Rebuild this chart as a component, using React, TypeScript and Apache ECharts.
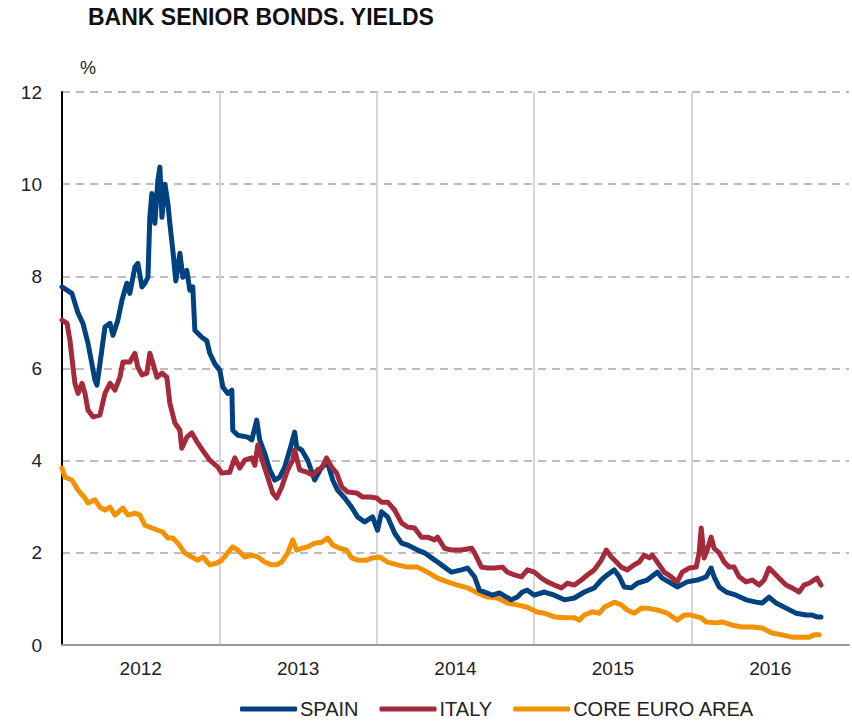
import React, { useEffect, useRef } from "react";
import * as echarts from "echarts";

// Decimal-year positions and yields (%)
const spainT = [0.000,0.063,0.102,0.133,0.165,0.190,0.209,0.222,0.241,0.273,0.305,0.324,0.355,0.381,0.412,0.431,0.463,0.482,0.508,0.527,0.546,0.558,0.571,0.590,0.609,0.622,0.635,0.654,0.673,0.685,0.704,0.723,0.749,0.768,0.793,0.812,0.831,0.844,0.888,0.920,0.939,0.971,1.003,1.022,1.053,1.079,1.085,1.117,1.180,1.206,1.237,1.256,1.288,1.320,1.352,1.383,1.415,1.447,1.478,1.491,1.523,1.561,1.605,1.650,1.688,1.720,1.751,1.796,1.840,1.878,1.923,1.973,2.005,2.030,2.069,2.113,2.157,2.195,2.259,2.303,2.348,2.386,2.430,2.475,2.538,2.576,2.621,2.652,2.697,2.735,2.779,2.824,2.855,2.893,2.925,2.957,3.001,3.065,3.128,3.192,3.255,3.319,3.382,3.426,3.464,3.509,3.541,3.572,3.617,3.655,3.718,3.782,3.813,3.871,3.909,3.972,4.036,4.093,4.124,4.143,4.175,4.220,4.283,4.346,4.410,4.448,4.492,4.537,4.600,4.664,4.727,4.765,4.797,4.822];
const spainV = [7.77,7.63,7.2,6.98,6.55,6.1,5.75,5.64,6.1,6.9,6.98,6.72,7.05,7.48,7.85,7.63,8.2,8.28,7.77,7.85,7.98,9.28,9.8,9.15,10.08,10.37,9.28,10.0,9.58,9.15,8.57,7.9,8.5,7.98,8.13,7.7,7.77,6.83,6.68,6.6,6.33,6.1,5.96,5.6,5.46,5.53,4.66,4.55,4.51,4.45,4.88,4.45,4.16,3.8,3.58,3.64,3.86,4.23,4.62,4.3,4.23,4.01,3.58,3.86,3.95,3.58,3.36,3.19,2.99,2.78,2.67,2.78,2.49,2.89,2.78,2.43,2.21,2.17,2.06,2.0,1.89,1.8,1.69,1.58,1.63,1.67,1.48,1.19,1.13,1.08,1.13,1.04,0.98,1.04,1.15,1.19,1.08,1.15,1.08,0.98,1.02,1.15,1.24,1.41,1.52,1.63,1.48,1.26,1.24,1.34,1.41,1.58,1.45,1.34,1.26,1.37,1.41,1.48,1.67,1.48,1.26,1.15,1.08,0.98,0.93,0.91,1.04,0.91,0.8,0.69,0.65,0.65,0.61,0.61];

const italyT = [0.000,0.032,0.051,0.070,0.082,0.102,0.127,0.146,0.165,0.197,0.241,0.273,0.305,0.336,0.368,0.387,0.431,0.463,0.482,0.508,0.539,0.558,0.577,0.603,0.635,0.666,0.685,0.717,0.749,0.761,0.793,0.825,0.863,0.907,0.939,0.990,1.015,1.066,1.098,1.129,1.161,1.206,1.225,1.244,1.275,1.307,1.339,1.364,1.396,1.434,1.466,1.478,1.510,1.555,1.593,1.624,1.650,1.681,1.713,1.745,1.777,1.815,1.872,1.910,1.954,1.999,2.030,2.069,2.113,2.157,2.195,2.240,2.284,2.322,2.367,2.386,2.430,2.475,2.538,2.602,2.621,2.665,2.703,2.747,2.798,2.830,2.874,2.919,2.957,3.001,3.046,3.084,3.128,3.173,3.211,3.255,3.299,3.338,3.382,3.426,3.458,3.490,3.522,3.553,3.591,3.636,3.668,3.699,3.731,3.750,3.782,3.826,3.871,3.909,3.940,3.985,4.029,4.048,4.061,4.080,4.099,4.124,4.143,4.175,4.207,4.239,4.270,4.302,4.346,4.385,4.429,4.461,4.492,4.524,4.556,4.600,4.638,4.683,4.714,4.746,4.778,4.797,4.822];
const italyV = [7.05,6.98,6.6,6.03,5.68,5.46,5.68,5.46,5.1,4.95,4.99,5.46,5.68,5.53,5.81,6.14,6.14,6.33,6.03,5.86,5.9,6.33,6.12,5.81,5.9,5.81,5.25,4.82,4.66,4.27,4.51,4.6,4.38,4.16,4.01,3.86,3.73,3.75,4.06,3.84,4.01,4.06,3.9,4.34,3.97,3.64,3.3,3.19,3.43,3.8,4.01,4.23,3.8,3.75,3.69,3.8,3.84,4.06,3.86,3.73,3.43,3.32,3.3,3.21,3.21,3.19,3.1,3.1,2.93,2.65,2.56,2.54,2.34,2.34,2.28,2.34,2.1,2.06,2.06,2.1,2.0,1.69,1.67,1.67,1.69,1.58,1.52,1.48,1.63,1.58,1.45,1.37,1.3,1.24,1.34,1.3,1.41,1.52,1.63,1.84,2.06,1.91,1.8,1.69,1.63,1.74,1.8,1.95,1.89,1.95,1.8,1.58,1.48,1.37,1.58,1.67,1.69,2.0,2.54,1.89,2.06,2.34,2.1,2.0,1.8,1.69,1.69,1.48,1.37,1.41,1.3,1.41,1.67,1.56,1.45,1.3,1.24,1.15,1.3,1.34,1.41,1.45,1.3];

const coreT = [0.000,0.019,0.063,0.102,0.146,0.165,0.209,0.241,0.273,0.305,0.336,0.387,0.419,0.463,0.495,0.527,0.571,0.609,0.641,0.673,0.704,0.736,0.780,0.825,0.863,0.895,0.939,0.983,1.015,1.053,1.085,1.117,1.161,1.206,1.244,1.288,1.332,1.364,1.396,1.434,1.466,1.491,1.523,1.561,1.605,1.650,1.688,1.720,1.764,1.808,1.840,1.878,1.935,1.973,2.018,2.069,2.132,2.195,2.259,2.322,2.386,2.449,2.513,2.576,2.640,2.703,2.766,2.830,2.893,2.957,3.014,3.065,3.128,3.192,3.255,3.287,3.319,3.369,3.414,3.445,3.509,3.553,3.591,3.636,3.680,3.718,3.782,3.845,3.909,3.953,3.997,4.061,4.093,4.156,4.194,4.258,4.321,4.385,4.448,4.511,4.575,4.638,4.702,4.746,4.778,4.810];
const coreV = [3.84,3.64,3.58,3.36,3.19,3.08,3.15,2.99,2.93,2.99,2.82,2.97,2.82,2.86,2.82,2.6,2.54,2.49,2.45,2.32,2.32,2.21,2.0,1.91,1.84,1.91,1.74,1.78,1.84,2.0,2.13,2.06,1.91,1.95,1.91,1.8,1.74,1.74,1.8,2.0,2.28,2.06,2.1,2.13,2.21,2.23,2.32,2.17,2.1,2.06,1.89,1.84,1.84,1.89,1.91,1.8,1.74,1.69,1.69,1.58,1.45,1.37,1.3,1.24,1.13,1.04,1.02,0.91,0.87,0.82,0.72,0.69,0.61,0.59,0.59,0.54,0.65,0.72,0.69,0.82,0.93,0.87,0.76,0.69,0.8,0.8,0.76,0.69,0.54,0.65,0.65,0.59,0.5,0.48,0.5,0.43,0.39,0.39,0.37,0.26,0.22,0.17,0.17,0.17,0.22,0.22];

const startYear = 2012;
const yearLabels = ["2012", "2013", "2014", "2015", "2016"];
const seriesNames = ["SPAIN", "ITALY", "CORE EURO AREA"];
const seriesColors = ["#00427f", "#a52a3c", "#f39200"];

const FONT = "'Liberation Sans', Arial, sans-serif";

function pairs(t: number[], v: number[]) {
  return t.map((x, i) => [startYear + x, v[i]]);
}

export default function App() {
  const ref = useRef<HTMLDivElement>(null);
  useEffect(() => {
    if (!ref.current) return;
    const chart = echarts.init(ref.current, undefined, { renderer: "svg" });
    const data = [pairs(spainT, spainV), pairs(italyT, italyV), pairs(coreT, coreV)];
    chart.setOption({
      animation: false,
      backgroundColor: "#ffffff",
      title: {
        text: "BANK SENIOR BONDS. YIELDS",
        left: 88,
        top: 5,
        padding: 0,
        textStyle: { fontFamily: FONT, fontSize: 23, fontWeight: "bold", color: "#111" },
      },
      graphic: [
        {
          type: "text",
          left: 80,
          top: 59,
          style: { text: "%", font: `18px ${FONT}`, fill: "#222" },
        },
      ],
      legend: {
        left: 240,
        top: 699,
        padding: 0,
        itemWidth: 57,
        itemHeight: 5,
        itemGap: 21,
        icon: "roundRect",
        textStyle: { fontFamily: FONT, fontSize: 20, color: "#222", padding: [0, 0, 0, -2] },
        data: seriesNames,
      },
      grid: { left: 62, right: 2, top: 92, bottom: 77, containLabel: false },
      xAxis: [
        {
          type: "value",
          min: startYear,
          max: startYear + yearLabels.length,
          interval: 1,
          axisLine: { show: true, lineStyle: { color: "#9a9a9a", width: 2 } },
          axisTick: { show: false },
          axisLabel: { show: false },
          splitLine: {
            show: true,
            showMinLine: false,
            showMaxLine: false,
            lineStyle: { color: "#d6d6d6", width: 2, type: "solid" },
          },
        },
        {
          type: "value",
          min: startYear,
          max: startYear + yearLabels.length,
          interval: 0.5,
          position: "bottom",
          axisLine: { show: false },
          axisTick: { show: false },
          splitLine: { show: false },
          axisLabel: {
            margin: 14,
            fontFamily: FONT,
            fontSize: 19,
            color: "#222",
            formatter: (v: number) => {
              const frac = v - Math.floor(v);
              if (Math.abs(frac - 0.5) < 1e-6) {
                const idx = Math.floor(v) - startYear;
                return yearLabels[idx] ?? "";
              }
              return "";
            },
          },
        },
      ],
      yAxis: {
        type: "value",
        min: 0,
        max: 12,
        interval: 2,
        axisLine: { show: true, lineStyle: { color: "#000", width: 2 } },
        axisTick: { show: false },
        axisLabel: { margin: 20, fontFamily: FONT, fontSize: 19, color: "#222" },
        splitLine: { show: true, lineStyle: { color: "#a8a8a8", width: 1.5, type: [8, 6] } },
      },
      series: seriesNames.map((name, i) => ({
        name,
        type: "line",
        xAxisIndex: 0,
        data: data[i],
        showSymbol: false,
        symbol: "none",
        color: seriesColors[i],
        lineStyle: { width: 5, color: seriesColors[i], cap: "round", join: "round" },
        z: i === 2 ? 1 : 2 + i,
      })),
    });
    return () => chart.dispose();
  }, []);
  return <div ref={ref} style={{ width: 852, height: 722, position: "absolute", left: 0, top: 0 }} />;
}
